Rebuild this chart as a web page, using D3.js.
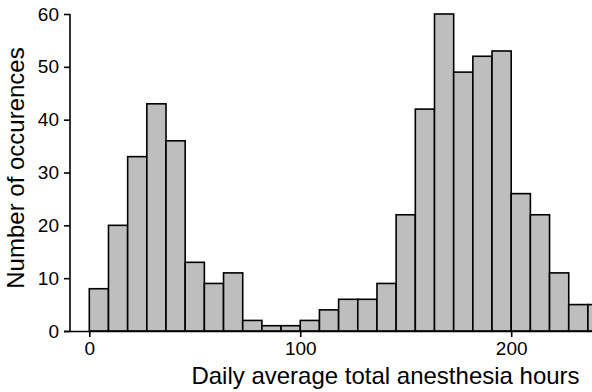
<!DOCTYPE html>
<html>
<head>
<meta charset="utf-8">
<script src="https://cdn.jsdelivr.net/npm/d3@7"></script>
<style>
  html, body { margin: 0; padding: 0; background: #fff; }
  svg { display: block; }
  text { font-family: "Liberation Sans", Arial, sans-serif; fill: #000; }
</style>
</head>
<body>
<svg id="chart" width="592" height="392"></svg>
<script>
// Data: histogram with bin width 100/11
const binWidth = 100 / 11;
const binStarts = d3.range(27).map(i => i * binWidth);
const counts = [8, 20, 33, 43, 36, 13, 9, 11, 2, 1, 1, 2, 4, 6, 6, 9, 22, 42, 60, 49, 52, 53, 26, 22, 11, 5, 5];
const xTicks = [0, 100, 200];
const yTicks = [0, 10, 20, 30, 40, 50, 60];
const xTitle = "Daily average total anesthesia hours";
const yTitle = "Number of occurences";

const svg = d3.select("#chart");
const x = d3.scaleLinear().domain([-9.15, 238.3]).range([70, 592]);
const y = d3.scaleLinear().domain([0, 60]).range([331, 14]);

const bins = binStarts.map((s, i) => ({ x0: s, x1: s + binWidth, n: counts[i] }));

svg.append("g").selectAll("rect").data(bins).join("rect")
  .attr("x", d => x(d.x0))
  .attr("y", d => y(d.n))
  .attr("width", d => x(d.x1) - x(d.x0))
  .attr("height", d => y(0) - y(d.n))
  .attr("fill", "#bebebe")
  .attr("stroke", "#000")
  .attr("stroke-width", 1.6);

// x axis
const xAxis = svg.append("g").attr("transform", `translate(0,${y(0)})`)
  .call(d3.axisBottom(x).tickValues(xTicks).tickSize(6).tickPadding(5).tickFormat(d3.format("d")));
xAxis.select(".domain").attr("d", `M64,0.5H592`).attr("stroke-width", 1.6);
xAxis.selectAll(".tick line").attr("stroke-width", 1.6);
xAxis.selectAll(".tick text").attr("font-size", 19).attr("font-family", "Liberation Sans, Arial, sans-serif");

// y axis
const yAxis = svg.append("g").attr("transform", `translate(70,0)`)
  .call(d3.axisLeft(y).tickValues(yTicks).tickSize(6).tickPadding(5).tickFormat(d3.format("d")));
yAxis.select(".domain").attr("d", `M0,${y(60)}V${y(0)}`).attr("stroke-width", 1.6);
yAxis.selectAll(".tick line").attr("stroke-width", 1.6);
yAxis.selectAll(".tick text").attr("font-size", 19).attr("font-family", "Liberation Sans, Arial, sans-serif");

svg.append("text")
  .attr("x", 385.5).attr("y", 384)
  .attr("text-anchor", "middle")
  .attr("font-size", 24)
  .text(xTitle);

svg.append("text")
  .attr("transform", `translate(23.5,168) rotate(-90)`)
  .attr("text-anchor", "middle")
  .attr("font-size", 24)
  .text(yTitle);
</script>
</body>
</html>
